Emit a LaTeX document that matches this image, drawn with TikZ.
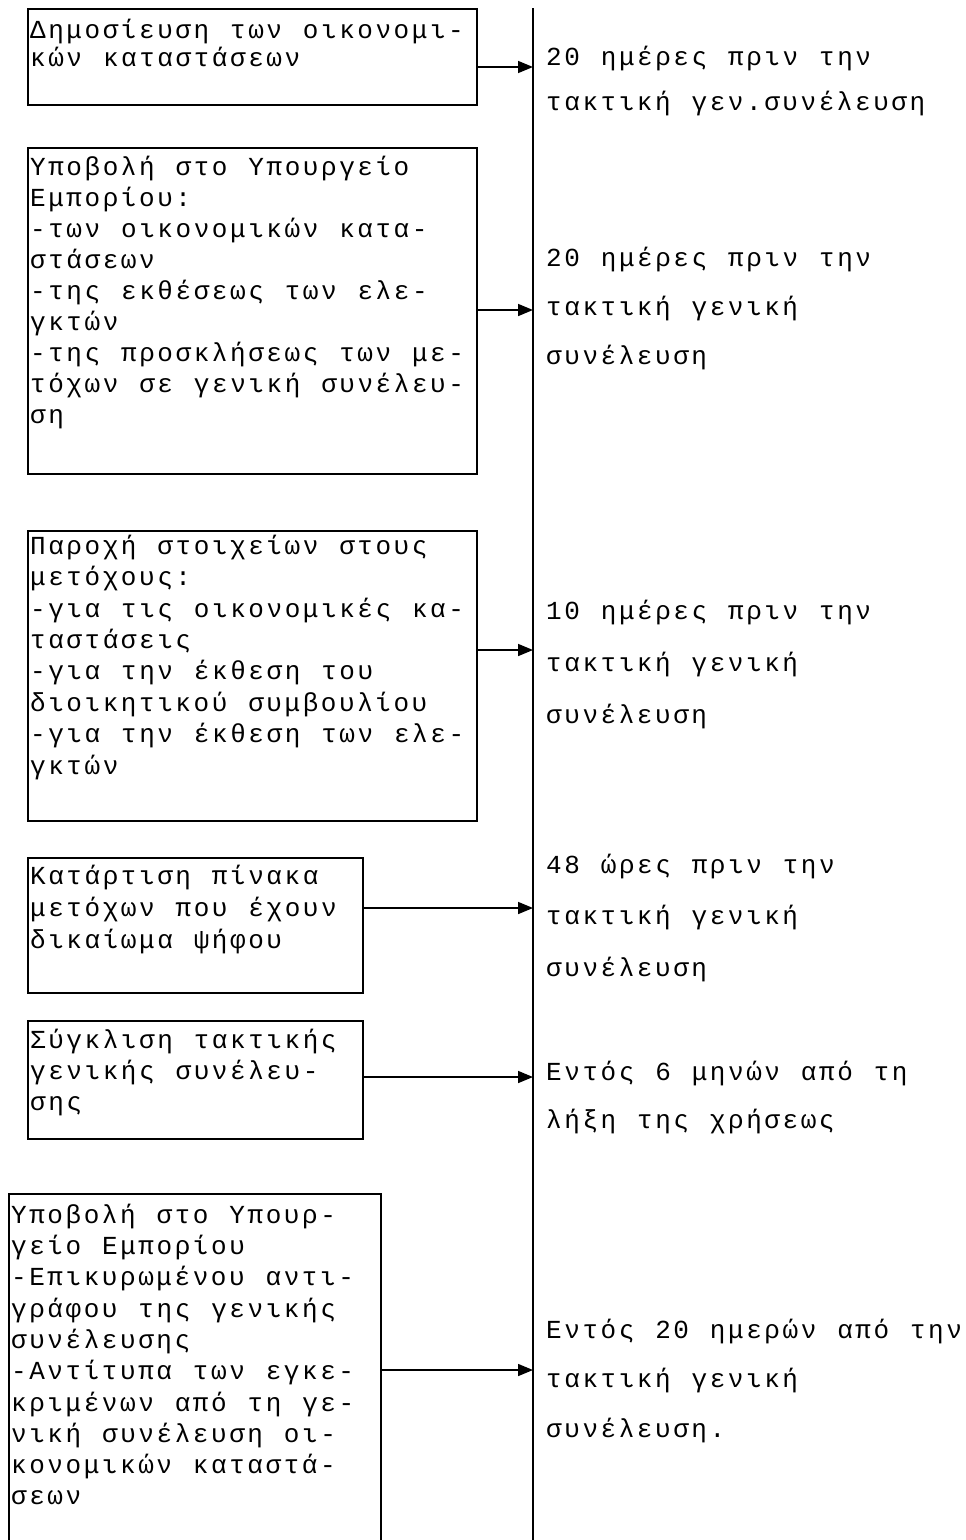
\documentclass[tikz,border=0pt]{standalone}
\usepackage{fontspec}
\setmonofont[LetterSpace=9.85,WordSpace=1.15]{Liberation Mono}
\usetikzlibrary{arrows.meta,calc}
\newcommand\topstrut{\rule{0pt}{22pt}}

\begin{document}
\begin{tikzpicture}[
    x=1pt, y=-1pt,
    >={Triangle[length=15pt,width=12pt]},
    stepbox/.style={draw, line width=1.6pt, anchor=north west, inner sep=0pt},
    boxtext/.style={anchor=north west, align=left, inner sep=0pt,
                    font=\ttfamily\fontsize{26}{#1}\selectfont},
    when/.style={anchor=north west, align=left, inner sep=0pt,
                 font=\ttfamily\fontsize{26}{#1}\selectfont},
    arr/.style={->, line width=1.6pt},
    axis/.style={line width=2.4pt},
  ]
  \useasboundingbox (0,0) rectangle (966,1540);
  \clip (0,0) rectangle (966,1540);

  % ---- the time axis
  \coordinate (axtop) at (533,8);
  \coordinate (axbot) at (533,1550);
  \draw[axis] (axtop) -- (axbot);

  % ---- 1: publication
  \node[stepbox, minimum width=449pt, minimum height=96pt] (pub) at (27,8) {};
  \node[boxtext=28] (pubtxt) at (30,16)
    {\topstrut Δημοσίευση των οικονομι-\\κών καταστάσεων};
  \node[when=45] (when1) at (546,43)
    {\topstrut 20 ημέρες πριν την\\τακτική γεν.συνέλευση};
  \coordinate (t1) at (533,67);
  \draw[arr] (t1 -| pub.east) -- (t1);

  % ---- 2: filing with the ministry
  \node[stepbox, minimum width=449pt, minimum height=326pt] (subm) at (27,147) {};
  \node[boxtext=31] (submtxt) at (30,153)
    {\topstrut Υποβολή στο Υπουργείο\\Εμπορίου:\\-των οικονομικών κατα-\\στάσεων\\
     -της εκθέσεως των ελε-\\γκτών\\-της προσκλήσεως των με-\\τόχων σε γενική συνέλευ-\\ση};
  \node[when=49] (when2) at (546,244)
    {\topstrut 20 ημέρες πριν την\\τακτική γενική\\συνέλευση};
  \coordinate (t2) at (533,310);
  \draw[arr] (t2 -| subm.east) -- (t2);

  % ---- 3: information to the shareholders
  \node[stepbox, minimum width=449pt, minimum height=290pt] (info) at (27,530) {};
  \node[boxtext=31.4] (infotxt) at (30,532)
    {\topstrut Παροχή στοιχείων στους\\μετόχους:\\-για τις οικονομικές κα-\\ταστάσεις\\
     -για την έκθεση του\\διοικητικού συμβουλίου\\-για την έκθεση των ελε-\\γκτών};
  \node[when=52] (when3) at (546,597)
    {\topstrut 10 ημέρες πριν την\\τακτική γενική\\συνέλευση};
  \coordinate (t3) at (533,650);
  \draw[arr] (t3 -| info.east) -- (t3);

  % ---- 4: list of voting shareholders
  \node[stepbox, minimum width=335pt, minimum height=135pt] (vote) at (27,857) {};
  \node[boxtext=32] (votetxt) at (30,862.5)
    {\topstrut Κατάρτιση πίνακα\\μετόχων που έχουν\\δικαίωμα ψήφου};
  \node[when=51.5] (when4) at (546,851)
    {\topstrut 48 ώρες πριν την\\τακτική γενική\\συνέλευση};
  \coordinate (t4) at (533,908);
  \draw[arr] (t4 -| vote.east) -- (t4);

  % ---- 5: convening the meeting
  \node[stepbox, minimum width=335pt, minimum height=118pt] (conv) at (27,1020) {};
  \node[boxtext=31] (convtxt) at (30,1026)
    {\topstrut Σύγκλιση τακτικής\\γενικής συνέλευ-\\σης};
  \node[when=48] (when5) at (546,1058)
    {\topstrut Εντός 6 μηνών από τη\\λήξη της χρήσεως};
  \coordinate (t5) at (533,1077);
  \draw[arr] (t5 -| conv.east) -- (t5);

  % ---- 6: filing of the minutes (box runs off the page)
  \node[stepbox, minimum width=372pt, minimum height=360pt] (file) at (8,1193) {};
  \node[boxtext=31.3] (filetxt) at (11,1201)
    {\topstrut Υποβολή στο Υπουρ-\\γείο Εμπορίου\\-Επικυρωμένου αντι-\\γράφου της γενικής\\συνέλευσης\\
     -Αντίτυπα των εγκε-\\κριμένων από τη γε-\\νική συνέλευση οι-\\κονομικών καταστά-\\σεων};
  \node[when=49.5] (when6) at (546,1316)
    {\topstrut Εντός 20 ημερών από την\\τακτική γενική\\συνέλευση.};
  \coordinate (t6) at (533,1370);
  \draw[arr] (t6 -| file.east) -- (t6);
\end{tikzpicture}
\end{document}
